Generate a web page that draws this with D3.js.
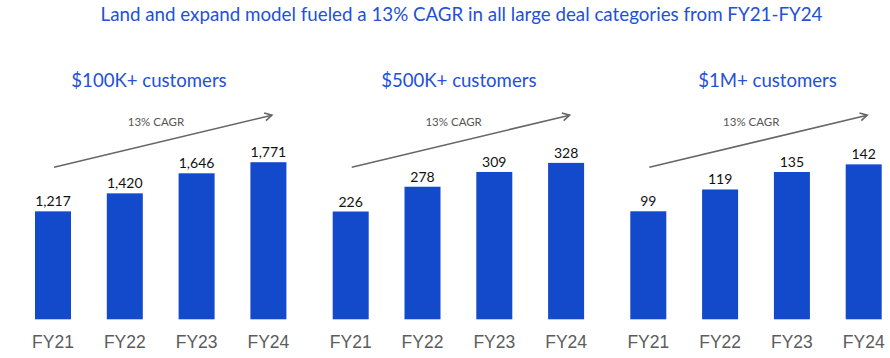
<!DOCTYPE html>
<html><head><meta charset="utf-8">
<script src="https://cdn.jsdelivr.net/npm/d3@7/dist/d3.min.js"></script>
<style>
html,body{margin:0;padding:0;background:#fff;}
svg{display:block;}
</style></head>
<body>
<script>
const chartTitle = "Land and expand model fueled a 13% CAGR in all large deal categories from FY21-FY24";
const categories = ["FY21", "FY22", "FY23", "FY24"];
const panelTitles = ["$100K+ customers", "$500K+ customers", "$1M+ customers"];
const values100K = [1217, 1420, 1646, 1771];
const values500K = [226, 278, 309, 328];
const values1M = [99, 119, 135, 142];
const cagrLabel = "13% CAGR";
const seriesList = [values100K, values500K, values1M];
const yMaxes = [2000, 372, 162.6];

const W = 890, H = 358;
const svg = d3.select("body").append("svg").attr("width", W).attr("height", H);

const blue = "#1349CB";
const titleBlue = "#2350D8";
const baseY = 319.3, plotH = 177.4;
const step = 71.8, bw = 36;
const firstBar = [35, 332.7, 630.3];
const titleCx = [149, 458.8, 767.5];

svg.append("text")
  .attr("x", 461.5).attr("y", 21)
  .attr("text-anchor", "middle")
  .attr("font-family", "Lato, 'Open Sans', sans-serif")
  .attr("font-size", 18.75)
  .attr("fill", titleBlue)
  .text(chartTitle);

seriesList.forEach((vals, i) => {
  const a = firstBar[i] - (step - bw) / 2;
  const p = 1 - bw / step;
  const x = d3.scaleBand().domain(categories).range([a, a + step * categories.length])
    .paddingInner(p).paddingOuter(p / 2);
  const y = d3.scaleLinear().domain([0, yMaxes[i]]).range([baseY, baseY - plotH]);
  const g = svg.append("g");

  g.selectAll("rect").data(vals).enter().append("rect")
    .attr("x", (d, j) => x(categories[j]))
    .attr("y", d => y(d))
    .attr("width", x.bandwidth())
    .attr("height", d => y(0) - y(d))
    .attr("fill", blue);

  g.selectAll("text.val").data(vals).enter().append("text")
    .attr("class", "val")
    .attr("x", (d, j) => x(categories[j]) + x.bandwidth() / 2)
    .attr("y", d => y(d) - 5)
    .attr("text-anchor", "middle")
    .attr("font-family", "Lato, sans-serif")
    .attr("font-size", 14)
    .attr("fill", "#111")
    .text(d => d3.format(",")(d));

  const axis = d3.axisBottom(x).tickSize(0).tickPadding(0);
  const ag = g.append("g").attr("transform", `translate(0,${347.5})`).call(axis);
  ag.select(".domain").remove();
  ag.selectAll("text")
    .attr("dy", 0)
    .attr("font-family", "'Liberation Sans', Arial, sans-serif")
    .attr("font-size", 17.5)
    .attr("fill", "#5c5c5c");

  g.append("text")
    .attr("x", titleCx[i]).attr("y", 87.3)
    .attr("text-anchor", "middle")
    .attr("font-family", "Lato, sans-serif")
    .attr("font-size", 18.6)
    .attr("fill", titleBlue)
    .text(panelTitles[i]);

  // CAGR arrow
  const x1 = x(categories[0]) + 19, y1 = 167.3;
  const x2 = x(categories[3]) + bw - 14.5, y2 = 115.2;
  g.append("line").attr("x1", x1).attr("y1", y1).attr("x2", x2).attr("y2", y2)
    .attr("stroke", "#666").attr("stroke-width", 1.6);
  const ang = Math.atan2(y2 - y1, x2 - x1);
  const L = 8, spread = 0.5;
  const pA = [x2 - L * Math.cos(ang - spread), y2 - L * Math.sin(ang - spread)];
  const pB = [x2 - L * Math.cos(ang + spread), y2 - L * Math.sin(ang + spread)];
  g.append("path")
    .attr("d", `M${pA[0]},${pA[1]}L${x2},${y2}L${pB[0]},${pB[1]}`)
    .attr("fill", "none").attr("stroke", "#666").attr("stroke-width", 1.6);

  g.append("text")
    .attr("x", (x1 + x2) / 2 - 7).attr("y", 125.7)
    .attr("text-anchor", "middle")
    .attr("font-family", "Lato, sans-serif")
    .attr("font-size", 11.5)
    .attr("fill", "#555")
    .text(cagrLabel);
});
</script>
</body></html>
